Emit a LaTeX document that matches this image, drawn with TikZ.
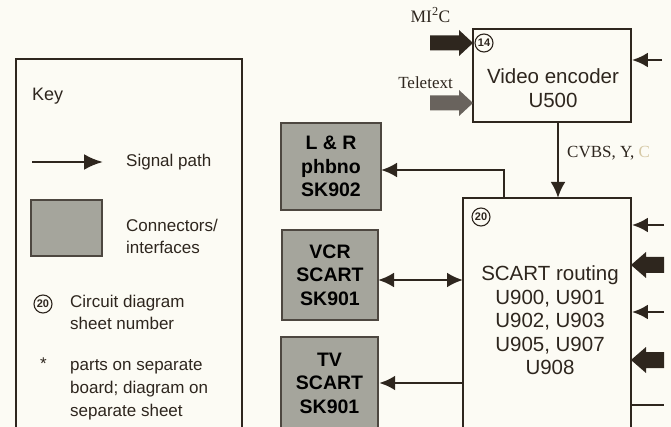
\documentclass[tikz,border=0pt]{standalone}
\usepackage{fontspec}
\setmainfont{Liberation Serif}
\setsansfont{Liberation Sans}
\usetikzlibrary{arrows.meta,calc}
\definecolor{ink}{HTML}{2E261E}
\definecolor{paper}{HTML}{FCFBF4}
\definecolor{conn}{HTML}{A5A59C}
\definecolor{faded}{HTML}{D6C9A6}
\begin{document}
\begin{tikzpicture}[x=1pt,y=-1pt,
  box/.style={draw=ink, line width=1.8pt, fill=paper, inner sep=0},
  connbox/.style={draw=ink!85, line width=2.4pt, fill=conn, inner sep=0, align=center,
    text=black, font=\sffamily\bfseries\fontsize{19.5}{23.5}\selectfont},
  tip/.tip={Latex[length=16pt,width=15pt]},
  sig/.style={draw=ink, line width=2.8pt, -tip},
  sigboth/.style={draw=ink, line width=2.8pt, tip-tip},
  circ/.style={circle, draw=ink, line width=1.1pt, inner sep=0, minimum size=18pt,
    text=ink, font=\sffamily\bfseries\fontsize{11}{11}\selectfont},
  boxtxt/.style={align=center, text=ink, inner sep=0, font=\sffamily\fontsize{20.5}{23.5}\selectfont},
  lbl/.style={text=ink, inner sep=0, font=\rmfamily\fontsize{17}{19}\selectfont},
  keytxt/.style={anchor=west, align=left, inner sep=0, text=ink, font=\sffamily\fontsize{17}{22.8}\selectfont},
  fatR/.pic={\fill[pic actions] (0,0) -- (-14,-13) -- (-14,-7.5) -- (-43,-7.5) -- (-43,7.5) -- (-14,7.5) -- (-14,13) -- cycle;},
  fatL/.pic={\fill[pic actions] (0,0) -- (15,-13) -- (15,-8) -- (33,-8) -- (33,8) -- (15,8) -- (15,13) -- cycle;}
]
\useasboundingbox (0,0) rectangle (671,427);
\fill[paper] (0,0) rectangle (671,427);
\clip (0,0) rectangle (671,427);

% ---------- Key ----------
\node[draw=ink, line width=1.8pt, anchor=north west, minimum width=226pt, minimum height=400pt, inner sep=0] (key) at (15,58) {};
\node[keytxt, font=\sffamily\fontsize{18}{20}\selectfont] (keyt) at (32,96) {Key};
\coordinate (ka) at (32,162);
\coordinate (kb) at (103,162);
\draw[draw=ink, line width=2.8pt, -{Latex[length=19pt,width=16pt]}] (ka) -- (kb);
\node[keytxt] (ksig) at (126,162) {Signal path};
\node[connbox, minimum width=71pt, minimum height=56pt] (kconn) at (66.5,228) {};
\node[keytxt] (kcon) at (126,236.5) {Connectors/\\interfaces};
\node[circ] (kc) at (43,304) {20};
\node[keytxt] (kcirc) at (70,312.5) {Circuit diagram\\sheet number};
\node[keytxt, font=\sffamily\fontsize{17}{20}\selectfont] (kstar) at (40,364) {*};
\node[keytxt] (kparts) at (70,389.5) {parts on separate\\board; diagram on\\separate sheet};

% ---------- Blocks ----------
\node[box, minimum width=158pt, minimum height=93pt] (venc) at (552,75.5) {};
\node[boxtxt] (venct) at (553,88) {Video encoder\\U500};
\node[circ] (c14) at (484,43) {14};

\node[box, minimum width=168pt, minimum height=242pt] (scart) at (547,319) {};
\node[boxtxt] (scartt) at (550,320.5) {SCART routing\\U900, U901\\U902, U903\\U905, U907\\U908};
\node[circ] (c20) at (481,217) {20};

\node[connbox, minimum width=100pt, minimum height=87pt] (lr) at (331,166.5) {L \& R\\phbno\\SK902};
\node[connbox, minimum width=96pt, minimum height=90pt] (vcr) at (330,275) {VCR\\SCART\\SK901};
\node[connbox, minimum width=97pt, minimum height=92pt] (tv) at (329.5,383) {TV\\SCART\\SK901};

% ---------- Labels ----------
\node[lbl, font=\rmfamily\fontsize{17.5}{19}\selectfont] (mi2c) at (430.5,15) {MI\textsuperscript{2}C};
\node[lbl] (ttx) at (425.5,83) {Teletext};
\node[lbl, anchor=west] (cvbs) at (567,153) {CVBS, Y, \textcolor{faded}{C}};

% ---------- Fat inputs ----------
\coordinate (fa1) at (473,43);
\coordinate (fa2) at (473,103);
\coordinate (fa3) at (631,265);
\coordinate (fa4) at (631,360);
\pic[ink] at (fa1) {fatR};
\pic[ink!72] at (fa2) {fatR};
\pic[ink] at (fa3) {fatL};
\pic[ink] at (fa4) {fatL};

% ---------- Connectors ----------
\coordinate (vin) at (662,60);
\draw[sig] (vin) -- (vin -| venc.east);
\coordinate (cv1) at (558,122);
\coordinate (cv2) at (558,198);
\draw[sig] (cv1) -- (cv2);
\coordinate (lrtap) at (504,198);
\coordinate (lrend) at (381,170);
\draw[sig] (lrtap) |- (lrend);
\coordinate (vcra) at (378,280);
\coordinate (vcrb) at (463,280);
\draw[sigboth] (vcra) -- (vcrb);
\draw[sig] (scart.west |- tv.east) -- (tv.east);
\coordinate (r1) at (664,225);
\coordinate (r2) at (664,312);
\coordinate (r3) at (664,405);
\draw[sig] (r1) -- (r1 -| scart.east);
\draw[sig] (r2) -- (r2 -| scart.east);
\draw[draw=ink, line width=2.8pt] (r3 -| scart.east) -- (r3);
\end{tikzpicture}
\end{document}
